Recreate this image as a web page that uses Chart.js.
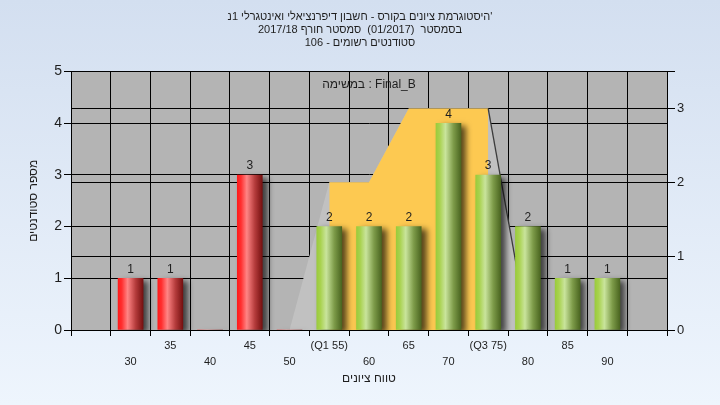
<!DOCTYPE html>
<html>
<head>
<meta charset="utf-8">
<script src="https://cdn.jsdelivr.net/npm/chart.js@4"></script>
<style>
  html, body { margin: 0; padding: 0; }
  body { background: linear-gradient(#d3dff0, #eef5fd); width: 720px; height: 405px; overflow: hidden; }
  #wrap { width: 720px; height: 405px; position: relative; }
</style>
</head>
<body>
<div id="wrap"><canvas id="histogram"></canvas></div>
<script>
const titleLines = [
  "היסטוגרמת ציונים בקורס - חשבון דיפרנציאלי ואינטגרלי 1נ'",
  "בסמסטר  (01/2017)  סמסטר חורף 2017/18",
  "סטודנטים רשומים - 106"
];
const seriesName = "במשימה : Final_B";
const xTitle = "טווח ציונים";
const yTitle = "מספר סטודנטים";

// histogram
const scores = [30, 35, 40, 45, 50, 55, 60, 65, 70, 75, 80, 85, 90];
const counts = [1, 1, 0, 3, 0, 2, 2, 2, 4, 3, 2, 1, 1];
const xTickLabels = ["30", "35", "40", "45", "50", "(Q1 55)", "60", "65", "70", "(Q3 75)", "80", "85", "90"];
const passScore = 55;

// background distribution shape (right axis)
const shapeX = [50, 55, 60, 65, 70, 75, 80];
const shapeY = [0, 2, 2, 3, 3, 3, 0];
const q1 = 55;
const q3 = 75;

const FONT = "'Liberation Sans', 'DejaVu Sans', Arial, sans-serif";
const TEXT = "#1e1e1e";

function barGradient(c) {
  const chart = c.chart;
  const pass = scores[c.dataIndex] >= passScore;
  if (!chart.chartArea) return pass ? "#9ccb3f" : "#ff2020";
  const cx = chart.scales.x.getPixelForValue(scores[c.dataIndex]);
  const g = chart.ctx.createLinearGradient(cx - 12.5, 0, cx + 12.5, 0);
  if (pass) {
    g.addColorStop(0, "#9acb3c");
    g.addColorStop(0.15, "#a9d24f");
    g.addColorStop(0.38, "#c9e49c");
    g.addColorStop(0.7, "#7d9b49");
    g.addColorStop(1, "#4a6520");
  } else {
    g.addColorStop(0, "#ff1a1a");
    g.addColorStop(0.15, "#ff3030");
    g.addColorStop(0.38, "#ff8585");
    g.addColorStop(0.7, "#b53c3c");
    g.addColorStop(1, "#761010");
  }
  return g;
}

// --- plugins ---

const plotBackground = {
  id: "plotBackground",
  beforeDraw(chart) {
    const { ctx, chartArea: a } = chart;
    ctx.save();
    ctx.fillStyle = "#b4b4b4";
    ctx.fillRect(a.left, a.top, a.right - a.left, a.bottom - a.top);
    ctx.restore();
  }
};

const barShadow = {
  id: "barShadow",
  beforeDatasetDraw(chart, args) {
    if (args.index !== 0) return;
    const ctx = chart.ctx;
    ctx.save();
    ctx.shadowColor = "rgba(0,0,0,0.65)";
    ctx.shadowBlur = 6;
    ctx.shadowOffsetX = 5;
    ctx.shadowOffsetY = 3;
  },
  afterDatasetDraw(chart, args) {
    if (args.index === 0) chart.ctx.restore();
  }
};

const barValues = {
  id: "barValues",
  afterDatasetsDraw(chart) {
    const { ctx, chartArea: a } = chart;
    const meta = chart.getDatasetMeta(0);
    ctx.save();
    ctx.font = "12px " + FONT;
    ctx.fillStyle = TEXT;
    ctx.textAlign = "center";
    ctx.textBaseline = "bottom";
    meta.data.forEach((bar, i) => {
      if (counts[i] > 0) ctx.fillText(String(counts[i]), bar.x, bar.y - 3);
    });
    // series name inside the plot, top centre
    ctx.textBaseline = "middle";
    ctx.fillText(chart.data.datasets[0].label, (a.left + a.right) / 2, a.top + 13);
    ctx.restore();
  }
};

new Chart(document.getElementById("histogram"), {
  data: {
    datasets: [
      {
        type: "bar",
        label: seriesName,
        data: scores.map((s, i) => ({ x: s, y: counts[i] })),
        backgroundColor: barGradient,
        borderWidth: 0,
        barThickness: 25,
        yAxisID: "y",
        order: 0
      },
      {
        type: "line",
        label: "edge",
        data: shapeX.map((x, i) => ({ x, y: shapeY[i] })).filter(p => p.x >= q3),
        borderColor: "#3c3c3c",
        borderWidth: 1.3,
        pointRadius: 0,
        fill: false,
        yAxisID: "y1",
        order: 1
      },
      {
        type: "line",
        label: "IQR",
        data: shapeX.map((x, i) => ({ x, y: shapeY[i] })).filter(p => p.x >= q1 && p.x <= q3),
        backgroundColor: "#fdc951",
        borderWidth: 0,
        pointRadius: 0,
        fill: "origin",
        yAxisID: "y1",
        order: 2
      },
      {
        type: "line",
        label: "shape",
        data: shapeX.map((x, i) => ({ x, y: shapeY[i] })),
        backgroundColor: "#c1c1c1",
        borderWidth: 0,
        pointRadius: 0,
        fill: "origin",
        yAxisID: "y1",
        order: 3
      }
    ]
  },
  options: {
    responsive: true,
    maintainAspectRatio: false,
    animation: false,
    layout: { padding: 0 },
    plugins: {
      legend: { display: false },
      tooltip: { enabled: false },
      title: {
        display: true,
        text: titleLines,
        color: TEXT,
        font: { family: FONT, size: 11, weight: "normal", lineHeight: 1.2 },
        padding: { top: 10, bottom: 22 }
      }
    },
    scales: {
      x: {
        type: "linear",
        min: 25,
        max: 95,
        afterFit: s => { s.height = 75; },
        ticks: {
          stepSize: 5,
          autoSkip: false,
          maxRotation: 0,
          padding: 2,
          color: TEXT,
          font: { family: FONT, size: 11, lineHeight: 1.45 },
          callback: v => {
            const k = (v - scores[0]) / 5;
            if (k < 0 || k >= xTickLabels.length) return "";
            return k % 2 === 0 ? ["", xTickLabels[k]] : [xTickLabels[k], ""];
          }
        },
        grid: { color: "#000", lineWidth: 1, tickLength: 6 },
        border: { color: "#000" },
        title: {
          display: true,
          text: xTitle,
          color: TEXT,
          font: { family: FONT, size: 12 },
          padding: { top: 0, bottom: 19 }
        }
      },
      y: {
        position: "left",
        min: 0,
        max: 5,
        afterFit: s => { s.width = 71; },
        ticks: { stepSize: 1, padding: 2, color: TEXT, font: { family: FONT, size: 14 } },
        grid: { color: "#000", lineWidth: 1, tickLength: 7 },
        border: { color: "#000" },
        title: {
          display: true,
          text: yTitle,
          color: TEXT,
          font: { family: FONT, size: 12 },
          padding: { top: 26, bottom: 0 }
        }
      },
      y1: {
        position: "right",
        min: 0,
        max: 3.5,
        afterFit: s => { s.width = 53; },
        ticks: {
          stepSize: 1,
          padding: 2,
          color: TEXT,
          font: { family: FONT, size: 13 },
          callback: v => (Number.isInteger(v) ? v : "")
        },
        grid: { color: "#000", lineWidth: 1, tickLength: 8 },
        border: { color: "#000" }
      }
    }
  },
  plugins: [plotBackground, barShadow, barValues]
});
</script>
</body>
</html>
